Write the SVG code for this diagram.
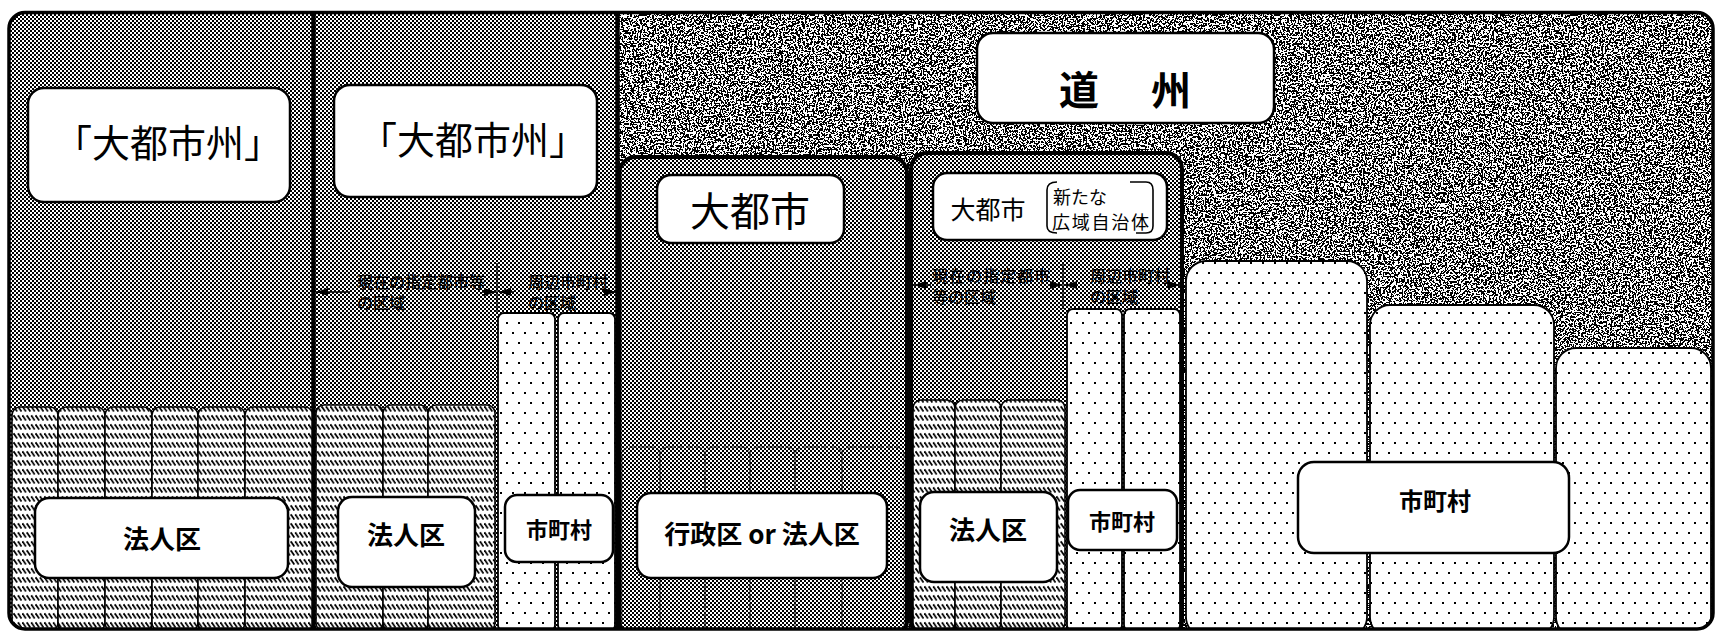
<svg xmlns="http://www.w3.org/2000/svg" width="1718" height="636" viewBox="0 0 1718 636">
<style>
.jp{font-family:"Noto Sans CJK JP","Noto Sans",sans-serif;fill:#000}
.lbl{fill:#fff;stroke:#000;stroke-width:2.5}
.hc{fill:url(#hatch);stroke:#000;stroke-width:1.6}
.dc{fill:url(#dots);stroke:#000;stroke-width:1.8}
.fc{fill:none;stroke:#111;stroke-width:1.3;stroke-opacity:0.55;stroke-dasharray:7 2}
.big{stroke:#000;stroke-width:4;fill:url(#chk)}
.arr{stroke:#000;stroke-width:1.6;fill:none}
.thin{stroke:#000;stroke-width:1.3}
.ann{font-size:16px;font-weight:500}
</style>
<defs>
<pattern id="chk" width="4" height="4" patternUnits="userSpaceOnUse"><rect width="4" height="4" fill="#fff"/><rect width="2" height="2" fill="#000"/><rect x="2" y="2" width="2" height="2" fill="#000"/></pattern>
<pattern id="hatch" width="4.4" height="9" patternUnits="userSpaceOnUse"><rect width="4.4" height="9" fill="#fff"/><line x1="0.4" y1="1.2" x2="3.9" y2="6.6" stroke="#000" stroke-width="1.7"/></pattern>
<pattern id="dots" width="12" height="20" patternUnits="userSpaceOnUse"><rect width="12" height="20" fill="#fff"/><rect x="2" y="2" width="2" height="2" fill="#000"/><rect x="8" y="12" width="2" height="2" fill="#000"/></pattern>
<filter id="nz" x="0" y="0" width="1" height="1" color-interpolation-filters="sRGB">
<feTurbulence type="fractalNoise" baseFrequency="0.55" numOctaves="2" seed="5"/>
<feColorMatrix type="matrix" values="0 0 0 0 0  0 0 0 0 0  0 0 0 0 0  1 0 0 0 0"/>
<feComponentTransfer><feFuncA type="discrete" tableValues="0 0 0 0 0 0 0 0 0 0 1 1 1 1 1 1 1 1 1 1"/></feComponentTransfer>
</filter>
<clipPath id="fr"><rect x="9" y="12.5" width="1704" height="616.5" rx="16"/></clipPath>
<marker id="ah" viewBox="0 0 12 8" refX="12" refY="4" markerWidth="12" markerHeight="8" markerUnits="userSpaceOnUse" orient="auto"><path d="M0,0 L12,4 L0,8 z" fill="#000"/></marker>
</defs>
<rect width="1718" height="636" fill="#fff"/>
<g clip-path="url(#fr)">
<g id="doshu">
<rect x="618" y="10" width="1096" height="620" fill="#fff"/>
<rect x="618" y="10" width="1096" height="620" fill="#000" filter="url(#nz)"/>
<rect class="lbl" x="977" y="33" width="297" height="90" rx="16"/>
<text class="jp" x="1079" y="88" font-size="40" font-weight="bold" text-anchor="middle" dominant-baseline="central">道</text>
<text class="jp" x="1171" y="88" font-size="40" font-weight="bold" text-anchor="middle" dominant-baseline="central">州</text>
</g>
<g id="daitoshishu-1">
<rect x="9" y="12" width="305" height="618" fill="url(#chk)"/>
<rect class="lbl" x="28" y="88" width="262" height="114" rx="16"/>
<text class="jp" x="168" y="140" font-size="38" text-anchor="middle" dominant-baseline="central">「大都市州」</text>
<rect class="hc" x="12" y="407" width="46" height="224" rx="8"/>
<rect class="hc" x="58" y="407" width="47" height="224" rx="8"/>
<rect class="hc" x="105" y="407" width="47" height="224" rx="8"/>
<rect class="hc" x="152" y="407" width="46" height="224" rx="8"/>
<rect class="hc" x="198" y="407" width="47" height="224" rx="8"/>
<rect class="hc" x="245" y="407" width="68" height="224" rx="8"/>
<rect class="lbl" x="35" y="498" width="253" height="80" rx="14"/>
<text class="jp" x="162" y="537" font-size="26" font-weight="bold" text-anchor="middle" dominant-baseline="central">法人区</text>
</g>
<g id="daitoshishu-2">
<rect x="314" y="12" width="304" height="618" fill="url(#chk)"/>
<rect class="lbl" x="334" y="85" width="263" height="112" rx="16"/>
<text class="jp" x="473" y="137" font-size="38" text-anchor="middle" dominant-baseline="central">「大都市州」</text>
<rect class="hc" x="316" y="405" width="67" height="226" rx="8"/>
<rect class="hc" x="383" y="405" width="45" height="226" rx="8"/>
<rect class="hc" x="428" y="405" width="67" height="226" rx="8"/>
<rect class="dc" x="498" y="313" width="57" height="318" rx="6"/>
<rect class="dc" x="558" y="313" width="57" height="318" rx="6"/>
<rect class="lbl" x="338" y="497" width="137" height="90" rx="14"/>
<text class="jp" x="406" y="533" font-size="26" font-weight="bold" text-anchor="middle" dominant-baseline="central">法人区</text>
<rect class="lbl" x="505" y="495" width="108" height="67" rx="12"/>
<text class="jp" x="559" y="528" font-size="22" font-weight="bold" text-anchor="middle" dominant-baseline="central">市町村</text>
<text class="jp ann" x="357" y="281" dominant-baseline="central">現在の指定都市等</text>
<text class="jp ann" x="357" y="302" dominant-baseline="central">の区域</text>
<text class="jp ann" x="528" y="281" dominant-baseline="central">周辺市町村</text>
<text class="jp ann" x="528" y="302" dominant-baseline="central">の区域</text>
</g>
<g id="daitoshi">
<rect class="big" x="619.5" y="157" width="287.5" height="480" rx="16"/>
<rect class="fc" x="622" y="447" width="38" height="190" rx="8"/>
<rect class="fc" x="660" y="447" width="45" height="190" rx="8"/>
<rect class="fc" x="705" y="447" width="45" height="190" rx="8"/>
<rect class="fc" x="750" y="447" width="45" height="190" rx="8"/>
<rect class="fc" x="795" y="447" width="47" height="190" rx="8"/>
<rect class="fc" x="842" y="447" width="62" height="190" rx="8"/>
<rect class="lbl" x="657" y="175" width="187" height="68" rx="14"/>
<text class="jp" x="750" y="209" font-size="40" text-anchor="middle" dominant-baseline="central">大都市</text>
<rect class="lbl" x="637" y="493" width="250" height="85" rx="14"/>
<text class="jp" x="762" y="532" font-size="26" font-weight="bold" text-anchor="middle" dominant-baseline="central">行政区 or 法人区</text>
</g>
<g id="koiki">
<rect class="big" x="911" y="153" width="271" height="484" rx="16"/>
<rect class="lbl" x="933" y="173" width="234" height="67" rx="14"/>
<text class="jp" x="988" y="208" font-size="25" text-anchor="middle" dominant-baseline="central">大都市</text>
<path class="arr" d="M1057,182 Q1047,182 1047,190 L1047,226 Q1047,233 1057,233"/>
<path class="arr" d="M1130,182 L1146,182 Q1153,182 1153,190 L1153,226 Q1153,233 1146,233 L1136,233"/>
<text class="jp" x="1053" y="196" font-size="18" dominant-baseline="central">新たな</text>
<text class="jp" x="1052" y="221" font-size="18" textLength="97" dominant-baseline="central">広域自治体</text>
<rect class="hc" x="913" y="400" width="42" height="231" rx="8"/>
<rect class="hc" x="955" y="400" width="46" height="231" rx="8"/>
<rect class="hc" x="1001" y="400" width="64" height="231" rx="8"/>
<rect class="dc" x="1067" y="309" width="55" height="322" rx="6"/>
<rect class="dc" x="1124" y="309" width="56" height="322" rx="6"/>
<rect class="lbl" x="920" y="492" width="137" height="90" rx="14"/>
<text class="jp" x="988" y="528" font-size="26" font-weight="bold" text-anchor="middle" dominant-baseline="central">法人区</text>
<rect class="lbl" x="1068" y="490" width="109" height="60" rx="12"/>
<text class="jp" x="1122" y="520" font-size="22" font-weight="bold" text-anchor="middle" dominant-baseline="central">市町村</text>
<text class="jp ann" x="932" y="275" textLength="118" dominant-baseline="central">現在の指定都市</text>
<text class="jp ann" x="932" y="296" dominant-baseline="central">等の区域</text>
<text class="jp ann" x="1090" y="275" dominant-baseline="central">周辺市町村</text>
<text class="jp ann" x="1090" y="296" dominant-baseline="central">の区域</text>
</g>
<g id="shichoson">
<rect class="dc" x="1186" y="261" width="181" height="376" rx="20" stroke-width="2.5"/>
<rect class="dc" x="1370" y="305" width="184" height="332" rx="20" stroke-width="2.5"/>
<rect class="dc" x="1556" y="348" width="155" height="289" rx="20" stroke-width="2.5"/>
<rect class="lbl" x="1298" y="462" width="271" height="91" rx="16"/>
<text class="jp" x="1435" y="499" font-size="24" font-weight="bold" text-anchor="middle" dominant-baseline="central">市町村</text>
</g>
</g>
<g id="connectors">
<line class="thin" x1="497" y1="263" x2="497" y2="313"/>
<line class="thin" x1="1063" y1="262" x2="1063" y2="309"/>
<line class="arr" x1="350" y1="292" x2="316" y2="292" marker-end="url(#ah)"/>
<line class="arr" x1="482" y1="292" x2="496" y2="292" marker-end="url(#ah)"/>
<line class="arr" x1="514" y1="292" x2="499" y2="292" marker-end="url(#ah)"/>
<line class="arr" x1="603" y1="292" x2="616" y2="292" marker-end="url(#ah)"/>
<line class="arr" x1="931" y1="285" x2="914" y2="285" marker-end="url(#ah)"/>
<line class="arr" x1="1049" y1="285" x2="1062" y2="285" marker-end="url(#ah)"/>
<line class="arr" x1="1078" y1="285" x2="1065" y2="285" marker-end="url(#ah)"/>
<line class="arr" x1="1167" y1="285" x2="1180" y2="285" marker-end="url(#ah)"/>
</g>
<g id="frame">
<line x1="313.5" y1="12" x2="313.5" y2="629" stroke="#000" stroke-width="4.5"/>
<line x1="617.5" y1="12" x2="617.5" y2="629" stroke="#000" stroke-width="4.5"/>
<rect x="9" y="12.5" width="1704" height="616.5" rx="16" fill="none" stroke="#000" stroke-width="3.5"/>
</g>
</svg>
